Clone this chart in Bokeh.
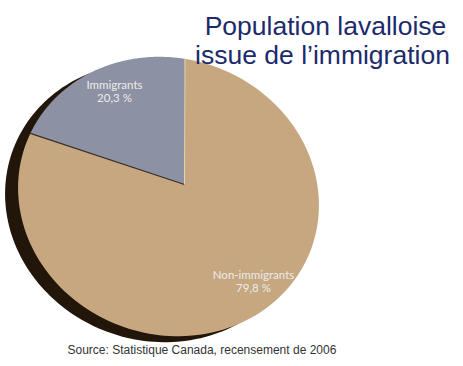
import numpy as np
from bokeh.plotting import figure
from bokeh.models import Range1d
from bokeh.core.properties import value
from bokeh.embed import file_html
from bokeh.resources import INLINE

# ---- data ----
categories = ["Immigrants", "Non-immigrants"]
shares = [20.3, 79.8]
share_labels = ["20,3 %", "79,8 %"]
title_lines = ["Population lavalloise", "issue de l\u2019immigration"]
source_text = "Source: Statistique Canada, recensement de 2006"

# ---- style / layout ----
W, H = 455, 358
slice_colors = ["#8c91a3", "#c6a77f"]
CX, CY = 176, 204          # ellipse centre (page px)
A, B = 152, 138            # semi axes
TILT = np.radians(20)
APEX = (192, 192)
T0 = np.radians(258)       # boundary at top
SHADOW_OFF = (-13, 6)
label_pos = [(122, 92), (261, 282)]

def rim(t, dx=0.0, dy=0.0):
    u = A * np.cos(t)
    v = B * np.sin(t)
    x = CX + u * np.cos(TILT) - v * np.sin(TILT) + dx
    y = CY + u * np.sin(TILT) + v * np.cos(TILT) + dy
    return x, y

p = figure(width=W, height=H, output_backend="svg", toolbar_location=None,
           x_range=Range1d(8, 8 + W), y_range=Range1d(8 + H, 8),
           min_border=0)
p.axis.visible = False
p.grid.visible = False
p.outline_line_color = None
p.background_fill_color = "white"
p.border_fill_color = "white"

# shadow (disk thickness)
ts = np.linspace(0, 2 * np.pi, 200)
sx, sy = rim(ts, *SHADOW_OFF)
p.patch(sx, sy, fill_color="#22160b", line_color=None)

# slices
total = sum(shares)
fr = [s / total for s in shares]
starts = [T0 - 2 * np.pi * fr[0], T0]
ends = [T0, T0 + 2 * np.pi * fr[1]]
xs, ys = [], []
for s, e in zip(starts, ends):
    t = np.linspace(s, e, 150)
    rx, ry = rim(t)
    xs.append(np.concatenate([[APEX[0]], rx, [APEX[0]]]).tolist())
    ys.append(np.concatenate([[APEX[1]], ry, [APEX[1]]]).tolist())
p.patches(xs, ys, fill_color=slice_colors, line_color=None)

# boundary lines
bx, by = rim(np.array([starts[0]]))
p.line([APEX[0], bx[0]], [APEX[1], by[0]], line_color="#3a302c", line_width=1.2)
tx, ty = rim(np.array([T0]))
p.line([APEX[0], tx[0]], [APEX[1], ty[0]], line_color="#e6d6b8", line_width=1)

# slice labels
for (lx, ly), cat, lab in zip(label_pos, categories, share_labels):
    p.text([lx], [ly], text=[cat], text_align="center", text_baseline="alphabetic",
           text_font=value("Lato"), text_font_size="11.5px", text_color="#ececec")
    p.text([lx], [ly + 13], text=[lab], text_align="center", text_baseline="alphabetic",
           text_font=value("Lato"), text_font_size="11.5px", text_color="#ececec")

# title
p.text([333], [33], text=[title_lines[0]], text_align="center", text_baseline="alphabetic",
       text_font=value("Liberation Sans"), text_font_size="26.5px", text_color="#1c2b6b")
p.text([330], [62], text=[title_lines[1]], text_align="center", text_baseline="alphabetic",
       text_font=value("Liberation Sans"), text_font_size="26.5px", text_color="#1c2b6b")

# source
p.text([75], [357], text=[source_text], text_align="left", text_baseline="alphabetic",
       text_font=value("Liberation Sans"), text_font_size="12px", text_color="#333333")

open("out.html", "w").write(file_html(p, INLINE))
